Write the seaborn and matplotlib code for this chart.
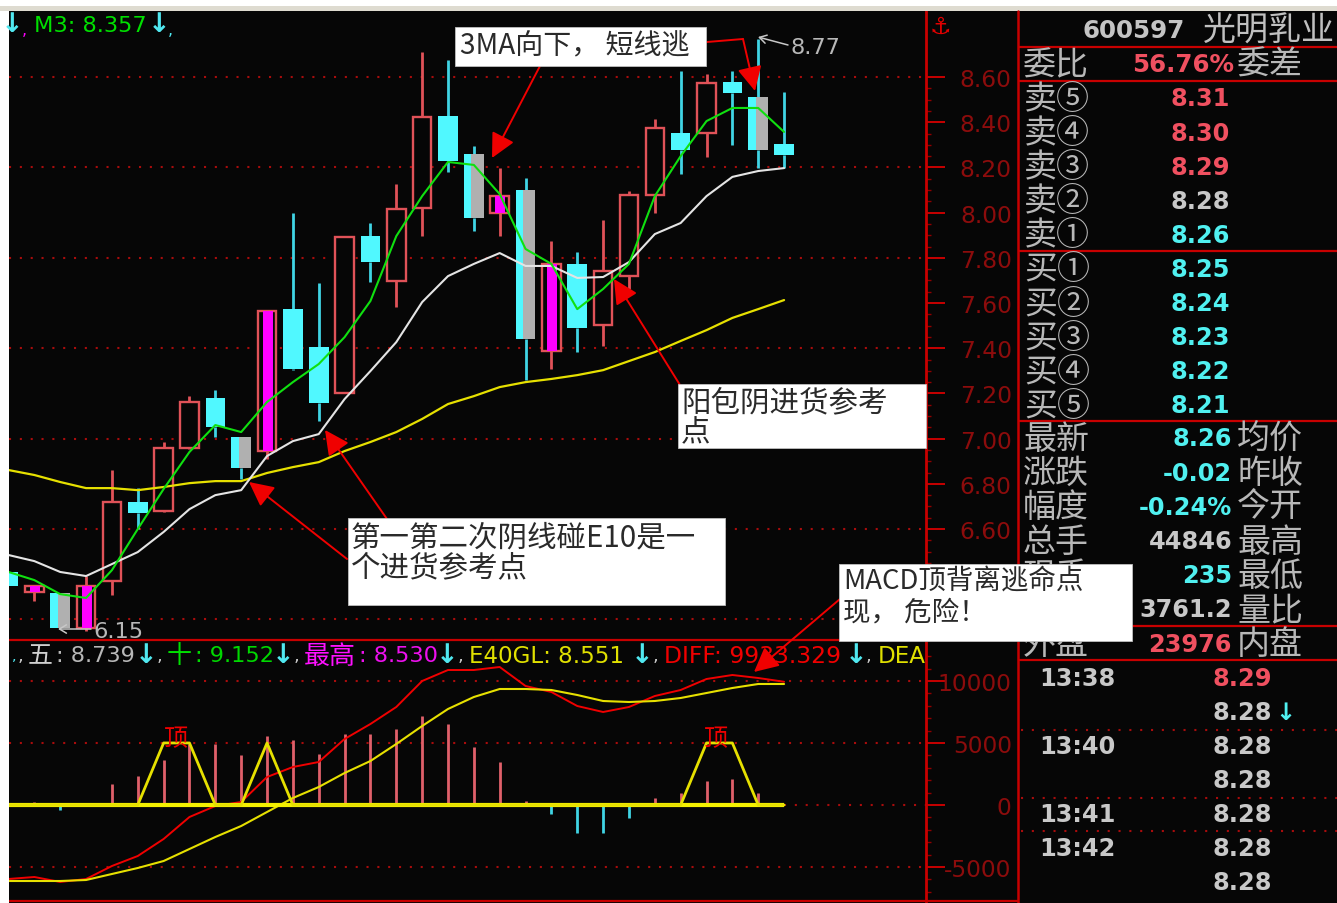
import numpy as np
import pandas as pd
import matplotlib
matplotlib.use("Agg")
import matplotlib.pyplot as plt
from matplotlib.patches import Rectangle
from matplotlib.transforms import Bbox
import seaborn as sns

W, H = 1337, 904

# ---------- data ----------
body_top = [6.41,6.35,6.317,6.35,6.72,6.72,6.96,7.16,7.18,7.007,7.565,7.573,7.405,7.89,7.896,8.016,8.423,8.427,8.26,8.073,8.10,7.773,7.773,7.742,8.078,8.374,8.352,8.573,8.578,8.51,8.303]
body_bot = [6.35,6.32,6.16,6.16,6.37,6.67,6.68,6.96,7.05,6.87,6.945,7.31,7.157,7.20,7.78,7.697,8.02,8.228,7.976,7.998,7.44,7.388,7.489,7.503,7.72,8.078,8.277,8.352,8.529,8.277,8.255]
high = [6.41,6.35,6.317,6.39,6.86,6.78,6.985,7.19,7.215,7.007,7.565,8.00,7.69,7.89,7.954,8.127,8.71,8.675,8.295,8.197,8.153,7.874,7.826,7.967,8.096,8.414,8.627,8.613,8.627,8.77,8.534]
low = [6.35,6.28,6.16,6.15,6.31,6.60,6.675,6.954,7.007,6.82,6.91,7.303,7.08,7.20,7.693,7.582,7.896,8.18,7.919,7.896,7.26,7.308,7.383,7.41,7.662,8.00,8.171,8.246,8.30,8.197,8.197]
# candle kind: u hollow up, m up with magenta core, d cyan, g cyan with grey core
kind = ["d","m","g","m","u","d","u","u","d","g","m","d","d","u","d","u","u","d","g","m","g","m","d","u","u","u","d","u","d","g","d"]
m3 = [6.41,6.374,6.312,6.295,6.418,6.60,6.777,6.941,7.06,7.029,7.162,7.25,7.33,7.449,7.609,7.896,8.073,8.224,8.211,8.082,7.839,7.773,7.573,7.662,7.773,8.073,8.25,8.405,8.463,8.463,8.357]
e10 = [6.485,6.458,6.41,6.392,6.445,6.498,6.587,6.688,6.75,6.772,6.923,6.989,7.02,7.175,7.299,7.427,7.604,7.719,7.773,7.821,7.764,7.764,7.711,7.715,7.781,7.905,7.954,8.073,8.158,8.184,8.197]
e40 = [6.861,6.839,6.808,6.781,6.781,6.772,6.786,6.803,6.812,6.812,6.848,6.874,6.896,6.945,6.985,7.029,7.087,7.153,7.188,7.228,7.25,7.264,7.281,7.303,7.343,7.383,7.432,7.48,7.534,7.573,7.613]
hist = [0,215,-375,0,1670,2340,3630,4900,4950,4060,5570,5220,4140,5700,5700,6100,7180,6510,4710,3500,320,-700,-2230,-2230,-1080,590,1000,1940,2070,1000,0]
diff = [-5964,-5803,-6206,-5964,-4917,-4111,-2740,-967,-81,242,2257,3063,3466,5320,6529,7899,9994,10881,10881,11123,9591,9108,7979,7496,7899,8785,9269,10156,10478,10236,9933]
dea = [-6126,-6126,-6126,-6045,-5561,-5078,-4514,-3546,-2579,-1693,-564,564,1451,2579,3546,4917,6367,7738,8705,9350,9350,9269,8866,8382,8302,8382,8624,9027,9430,9753,9753]
top_sig = [0,0,0,0,0,0,5000,5000,0,0,5000,0,0,0,0,0,0,0,0,0,0,0,0,0,0,0,0,5000,5000,0,0]
idx = list(range(len(body_top)))

price_ticks = [6.2,6.4,6.6,6.8,7.0,7.2,7.4,7.6,7.8,8.0,8.2,8.4,8.6]
price_labels = ["","","6.60","6.80","7.00","7.20","7.40","7.60","7.80","8.00","8.20","8.40","8.60"]
price_grid = [6.2,6.6,7.0,7.4,7.8,8.2,8.6]
macd_ticks = [-5000,0,5000,10000]
macd_labels = ["-5000","0","5000","10000"]

ask_labels = ["卖⑤","卖④","卖③","卖②","卖①","买①","买②","买③","买④","买⑤"]
ask_values = ["8.31","8.30","8.29","8.28","8.26","8.25","8.24","8.23","8.22","8.21"]
ask_colors = ["#f05060","#f05060","#f05060","#c8c8c8","#50f0f0","#50f0f0","#50f0f0","#50f0f0","#50f0f0","#50f0f0"]
info_left = ["最新","涨跌","幅度","总手","现手","","外盘"]
info_values = ["8.26","-0.02","-0.24%","44846","235","3761.2","23976"]
info_colors = ["#50f0f0","#50f0f0","#50f0f0","#c8c8c8","#50f0f0","#c8c8c8","#f05060"]
info_right = ["均价","昨收","今开","最高","最低","量比","内盘"]
tick_times = ["13:38","","13:40","","13:41","13:42",""]
tick_prices = ["8.29","8.28","8.28","8.28","8.28","8.28","8.28"]

# ---------- style ----------
sns.set_theme(style="dark")
plt.rcParams["font.family"] = ["DejaVu Sans", "Noto Sans CJK SC"]
CJK = ["Noto Sans CJK SC", "DejaVu Sans"]
BLACK = "#060606"
RED = "#e05258"
CYAN = "#50f8ff"
CYAN_W = "#40d4e4"
AXRED = "#c80000"
DIM = "#8c0c0c"
GRID = "#a80c0c"

fig = plt.figure(figsize=(W/100, H/100), dpi=100, facecolor="white")

def box(x0, y0, x1, y1):
    return [x0/W, 1-y1/H, (x1-x0)/W, (y1-y0)/H]

bg = fig.add_axes(box(9, 12, W, H), facecolor=BLACK, zorder=0)
bg.set_xticks([]); bg.set_yticks([])
for s in bg.spines.values():
    s.set_visible(False)

xlim = (0.019, 35.49)
ax = fig.add_axes(box(9, 12, 926, 641), facecolor="none", zorder=1)
mx = fig.add_axes(box(9, 641, 926, 902), facecolor="none", zorder=1)
DOT = (0, (1, 4.2))

# ---------- price panel ----------
ax.set_xlim(*xlim)
ax.set_ylim(6.109, 8.892)
for g in price_grid:
    ax.axhline(g, color=GRID, lw=1.5, ls=DOT, zorder=1)

bw = 0.76
for i in idx:
    k = kind[i]
    up = k in "um"
    wc = RED if up else CYAN_W
    ax.vlines(i, body_top[i], high[i], color=wc, lw=2, zorder=2)
    ax.vlines(i, low[i], body_bot[i], color=wc, lw=2, zorder=2)
    h = body_top[i]-body_bot[i]
    if up:
        ax.bar(i, h, bottom=body_bot[i], width=bw*0.94, facecolor=BLACK, edgecolor=RED, lw=1.7, zorder=3)
        if k == "m":
            ax.bar(i+0.02, h, bottom=body_bot[i], width=0.39, color="#ff00ff", lw=0, zorder=4)
    else:
        ax.bar(i, h, bottom=body_bot[i], width=bw, color=CYAN, lw=0, zorder=3)
        if k == "g":
            ax.bar(i+0.14, h, bottom=body_bot[i], width=0.47, color="#b0b0b0", lw=0, zorder=4)

sns.lineplot(x=idx, y=e40, ax=ax, color="#e6e000", lw=1.6, legend=False, zorder=5)
sns.lineplot(x=idx, y=e10, ax=ax, color="#e4e4e4", lw=1.5, legend=False, zorder=5)
sns.lineplot(x=idx, y=m3, ax=ax, color="#10e010", lw=1.5, legend=False, zorder=6)

# ---------- MACD panel ----------
mx.set_xlim(*xlim)
mx.set_ylim(-7738, 13299)
for g in [-5000, 5000, 10000]:
    mx.axhline(g, color=GRID, lw=1.5, ls=DOT, zorder=1)
mx.plot([30, xlim[1]], [0, 0], color=GRID, lw=1.5, ls=DOT, zorder=1)

for i in idx:
    if hist[i] > 0:
        mx.vlines(i, 0, hist[i], color="#e0606a", lw=2, zorder=2)
    elif hist[i] < 0:
        mx.vlines(i, 0, hist[i], color=CYAN_W, lw=2, zorder=2)

sns.lineplot(x=idx, y=diff, ax=mx, color="#f00000", lw=1.4, legend=False, zorder=3)
sns.lineplot(x=idx, y=dea, ax=mx, color="#e6e000", lw=1.5, legend=False, zorder=3)
mx.plot([0, 30], [0, 0], color="#f4f000", lw=3, zorder=4, solid_capstyle="butt")
sns.lineplot(x=idx, y=top_sig, ax=mx, color="#e6e000", lw=2, legend=False, zorder=4)

# ---------- axes styling ----------
for a, ticks, labels, minors in [
    (ax, price_ticks, price_labels, np.arange(6.2, 8.61, 0.05)),
    (mx, macd_ticks, macd_labels, np.arange(-7000, 12001, 1000)),
]:
    a.set_xticks([])
    a.set_xlabel(""); a.set_ylabel("")
    a.yaxis.tick_right()
    a.set_yticks(ticks)
    a.set_yticklabels(labels)
    a.set_yticks(minors, minor=True)
    a.tick_params(axis="y", which="major", direction="out", length=13.7, width=1.4,
                  color=AXRED, labelcolor=DIM, labelsize=16.8, pad=48, right=True, left=False)
    a.tick_params(axis="y", which="minor", direction="out", length=3.6, width=1.0,
                  color="#900000", right=True, left=False)
    for t in a.get_yticklabels():
        t.set_ha("right")
    for name, s in a.spines.items():
        s.set_visible(name == "right")
    a.spines["right"].set_color(AXRED)
    a.spines["right"].set_linewidth(2)

# ---------- overlay in pixel coordinates ----------
ov = fig.add_axes([0, 0, 1, 1], facecolor="none", zorder=5)
ov.set_xlim(0, W); ov.set_ylim(H, 0); ov.axis("off")

def T(x, y, s, color="#c8c8c8", px=22, weight="normal", ha="left", family=None, z=2, clip=None):
    t = ov.text(x, y+1.5, s, color=color, fontsize=px*0.72, fontweight=weight, ha=ha, va="center",
                family=family if family else plt.rcParams["font.family"], zorder=z)
    if clip is not None:
        t.set_clip_box(clip); t.set_clip_on(True)
    return t

def HL(y, x0, x1, color=AXRED, lw=1.6, ls="-", z=1):
    ov.plot([x0, x1], [y, y], color=color, lw=lw, ls=ls, zorder=z, solid_capstyle="butt")

# structural lines
ov.add_patch(Rectangle((0, 7), W, 5, facecolor="#dedbd0", lw=0, zorder=1))
HL(641, 9, 1018); HL(902, 9, 1018)
ov.plot([1018, 1018], [12, H], color=AXRED, lw=1.8, zorder=1)
for y in [48, 82, 252, 422, 627, 661]:
    HL(y, 1018, W)
for y in [731, 799, 832]:
    HL(y, 1021, W, color=GRID, lw=1.5, ls=DOT)

LEG = 22.5
ARW = 27
# top legend row
T(12, 24, "↓", "#50e8f0", ARW, "bold", ha="center")
T(22, 29, ",", "#ff00ff", 16)
T(34, 25, "M3: 8.357", "#00e000", LEG)
T(159, 24, "↓", "#50e8f0", ARW, "bold", ha="center")
T(168, 29, ",", "#50e8f0", 16)
T(940, 25, "⚓", "#e00000", 24, "bold", ha="center", family=["DejaVu Sans"])

# MACD legend row
clipbb = Bbox([[9, 0], [926, H-641]])
row = 655
T(18, row, ",", "#c8c8c8", 18)
T(28, row, "五", "#d0d0d0", 25, family=CJK)
T(56, row, ": 8.739", "#b8b8b8", LEG)
T(146, row, "↓", "#50e8f0", ARW, "bold", ha="center")
T(157, row, ",", "#c8c8c8", 18)
T(167, row, "十", "#00e000", 25, family=CJK)
T(195, row, ": 9.152", "#00d800", LEG)
T(283, row, "↓", "#50e8f0", ARW, "bold", ha="center")
T(294, row, ",", "#c8c8c8", 18)
T(304, row, "最高", "#ff10ff", 26, family=CJK)
T(359, row, ": 8.530", "#ee10ee", LEG)
T(447, row, "↓", "#50e8f0", ARW, "bold", ha="center")
T(458, row, ",", "#c8c8c8", 18)
T(469, row, "E40GL: 8.551", "#e0e000", 23)
T(642, row, "↓", "#50e8f0", ARW, "bold", ha="center")
T(653, row, ",", "#c8c8c8", 18)
T(664, row, "DIFF: 9933.329", "#f00000", 23.5)
T(856, row, "↓", "#50e8f0", ARW, "bold", ha="center")
T(866, row, ",", "#c8c8c8", 18)
T(878, row, "DEA", "#e0e000", 23, clip=clipbb)
T(12, row, ",", "#50e8f0", 14)

# 顶 markers
for cx in [176, 716]:
    T(cx, 738, "顶", "#f00000", 24, family=CJK, ha="center", z=3)

# extreme labels
T(790, 46, "8.77", "#b8b8b8", 22.5)
T(93, 631, "6.15", "#b8b8b8", 22.5)
ov.annotate("", xy=(758, 38), xytext=(788, 46),
            arrowprops=dict(arrowstyle="->,head_width=3,head_length=5", color="#c8c8c8", lw=1.1,
                            shrinkA=0, shrinkB=0, mutation_scale=1), zorder=3)
ov.annotate("", xy=(58, 630), xytext=(91, 630),
            arrowprops=dict(arrowstyle="->,head_width=3,head_length=5", color="#c8c8c8", lw=1.1,
                            shrinkA=0, shrinkB=0, mutation_scale=1), zorder=3)

# right quote panel
T(1083, 30, "600597", "#c4c4c4", 24.5, "bold")
T(1335, 30, "光明乳业", "#c0c0c0", 33, ha="right", family=CJK)
CJ = 33
T(1023, 64, "委比", "#b8b8b8", CJ, family=CJK)
T(1234, 64, "56.76%", "#f05060", 24.5, "bold", ha="right")
T(1237, 64, "委差", "#b8b8b8", CJ, family=CJK)

y0, dy = 98, 34.1
for n, (lab, val, col) in enumerate(zip(ask_labels, ask_values, ask_colors)):
    y = y0 + n*dy
    T(1024, y, lab, "#b8b8b8", CJ, family=CJK)
    T(1230, y, val, col, 24, "bold", ha="right")

y0, dy = 438, 34.2
for n, (l, v, c, r) in enumerate(zip(info_left, info_values, info_colors, info_right)):
    y = y0 + n*dy
    if l:
        T(1023, y, l, "#b8b8b8", CJ, family=CJK)
    T(1232, y, v, c, 24, "bold", ha="right")
    T(1237, y, r, "#b8b8b8", CJ, family=CJK)

y0, dy = 678, 34
for n, (tm, pr) in enumerate(zip(tick_times, tick_prices)):
    y = y0 + n*dy
    if tm:
        T(1039, y, tm, "#c8c8c8", 24, "bold")
    T(1272, y, pr, "#f05060" if n == 0 else "#c8c8c8", 24, "bold", ha="right")
T(1285, 712, "↓", "#50f0f0", 24, "bold", ha="center")

# annotation boxes
def BX(x0, y0, x1, y1):
    ov.add_patch(Rectangle((x0, y0), x1-x0, y1-y0, facecolor="white", edgecolor="#c0c0c0", lw=0.6, zorder=7))

INK = "#2a2a2a"
BX(455, 28, 706, 67)
T(460, 45, "3MA向下， 短线逃", INK, 28, family=CJK, z=8)
BX(348, 519, 725, 606)
T(351, 536, "第一第二次阴线碰E10是一", INK, 29.5, family=CJK, z=8)
T(351, 566, "个进货参考点", INK, 29.5, family=CJK, z=8)
BX(678, 385, 926, 449)
T(681, 401, "阳包阴进货参考", INK, 29.5, family=CJK, z=8)
T(681, 431, "点", INK, 29.5, family=CJK, z=8)
BX(839, 565, 1132, 642)
T(843, 581, "MACD顶背离逃命点", INK, 27.5, family=CJK, z=8)
T(843, 612, "现， 危险！", INK, 27.5, family=CJK, z=8)

# red arrows
def AR(start, tip):
    ov.annotate("", xy=tip, xytext=start,
                arrowprops=dict(arrowstyle="-|>,head_width=7.5,head_length=15", color="#f00000", lw=1.4,
                                shrinkA=0, shrinkB=0, mutation_scale=1), zorder=6)

ov.plot([707, 743], [43, 40], color="#f00000", lw=1.4, zorder=6)
AR((743, 40), (755, 92))
AR((540, 67), (492, 159))
AR((680, 386), (614, 280))
AR((347, 560), (249, 483))
AR((387, 520), (325, 431))
AR((840, 600), (754, 673))

fig.savefig("out.png", dpi=100, facecolor="white")
